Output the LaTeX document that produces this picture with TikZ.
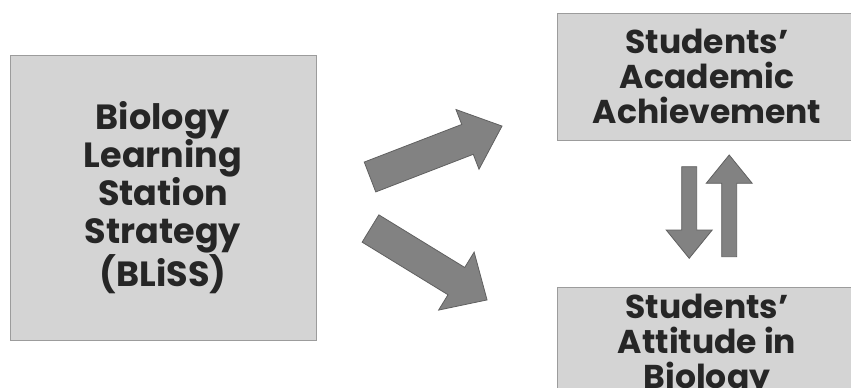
\documentclass[tikz,border=0pt]{standalone}
\usepackage{fontspec}
\setmainfont{Poppins}
\begin{document}
\begin{tikzpicture}[x=1pt,y=1pt,
  box/.style={draw=boxedge, fill=boxfill, line width=1pt, inner sep=0pt, align=center,
    text=txt, font=\bfseries\fontsize{33}{35}\selectfont},
  bigbox/.style={box, font=\bfseries\fontsize{35}{38.2}\selectfont},
  blockarrow/.style={fill=arrfill, draw=arredge, line width=0.8pt, line join=miter}]
\definecolor{boxfill}{HTML}{D4D4D4}
\definecolor{boxedge}{HTML}{9C9C9C}
\definecolor{arrfill}{HTML}{828282}
\definecolor{arredge}{HTML}{606060}
\definecolor{txt}{HTML}{262626}
\path[use as bounding box] (0,0) rectangle (851,-388);
\clip (0,0) rectangle (851,-388);
\fill[white] (0,0) rectangle (851,-388);

% boxes
\node[bigbox, minimum width=306, minimum height=285] (bliss) at (163,-197.5)
  {Biology\\Learning\\Station\\Strategy\\(BLiSS)};
\node[box, minimum width=300, minimum height=127] (ach) at (707,-76.5)
  {Students'\\Academic\\Achievement};
\node[box, minimum width=300, minimum height=118] (att) at (707,-346)
  {Students'\\Attitude in\\Biology};

% diagonal block arrows
\begin{scope}[shift={(370,-177)}, rotate=21.1]
  \draw[blockarrow] (0,16) -- (104.5,16) -- (104.5,32) -- (141.5,0) -- (104.5,-32) -- (104.5,-16) -- (0,-16) -- cycle;
\end{scope}
\begin{scope}[shift={(370.5,-228.5)}, rotate=-31.5]
  \draw[blockarrow] (0,16) -- (100.7,16) -- (100.7,34) -- (136.7,0) -- (100.7,-34) -- (100.7,-16) -- (0,-16) -- cycle;
\end{scope}

% vertical block arrows
\draw[blockarrow] (681.7,-166.7) -- (696.7,-166.7) -- (696.7,-230) -- (712.2,-230) -- (689.2,-258.3)
  -- (666.2,-230) -- (681.7,-230) -- cycle;
\draw[blockarrow] (721.7,-256.7) -- (736.7,-256.7) -- (736.7,-183.3) -- (752.2,-183.3) -- (729.2,-155)
  -- (706.2,-183.3) -- (721.7,-183.3) -- cycle;
\end{tikzpicture}
\end{document}
